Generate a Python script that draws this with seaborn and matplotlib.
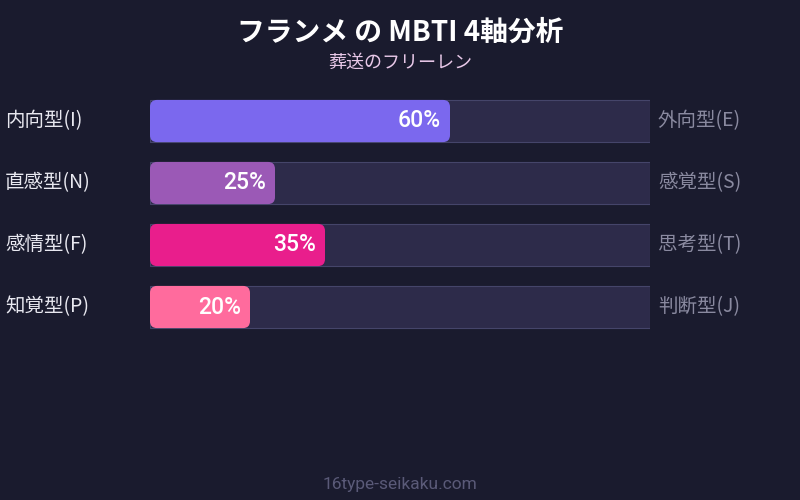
import matplotlib
matplotlib.use("Agg")
import matplotlib.pyplot as plt
import seaborn as sns
import pandas as pd
from matplotlib.patches import FancyBboxPatch

left_labels = ["内向型(I)", "直感型(N)", "感情型(F)", "知覚型(P)"]
right_labels = ["外向型(E)", "感覚型(S)", "思考型(T)", "判断型(J)"]
values = [60, 25, 35, 20]
bar_colors = ["#7b68ee", "#9b59b6", "#e91e8c", "#ff6b9d"]
title = "フランメ の MBTI 4軸分析"
subtitle = "葬送のフリーレン"
footer = "16type-seikaku.com"

BG = "#1a1b2e"
TRACK = "#2d2b4a"
TRACK_EDGE = "#45456a"

sns.set_theme(style="dark")
plt.rcParams["font.family"] = ["Noto Sans CJK JP", "DejaVu Sans"]

df = pd.DataFrame({"axis": left_labels, "value": values, "track": [100] * len(values)})

fig = plt.figure(figsize=(8, 5), dpi=100, facecolor=BG)
ax = fig.add_axes([150 / 800, (500 - 338) / 500, 500 / 800, 248 / 500])
ax.set_facecolor(BG)

sns.barplot(data=df, y="axis", x="track", color=TRACK, width=0.68, ax=ax,
            edgecolor=TRACK_EDGE, linewidth=0.8, orient="h", saturation=1)
n_track = len(ax.patches)
sns.barplot(data=df, y="axis", x="value", hue="axis", palette=bar_colors,
            width=0.68, ax=ax, legend=False, orient="h", saturation=1)

# replace value bars with rounded boxes
aspect = (100 / 500) / (4 / 248)
for p in list(ax.patches)[n_track:]:
    x, y = p.get_x(), p.get_y()
    w, h = p.get_width(), p.get_height()
    fc = p.get_facecolor()
    p.remove()
    box = FancyBboxPatch((x, y), w, h, boxstyle="round,pad=0,rounding_size=1.4",
                         mutation_aspect=1 / aspect, facecolor=fc, edgecolor="none",
                         zorder=3)
    ax.add_patch(box)

ax.set_xlim(0, 100)
ax.set_ylim(3.5, -0.5)
ax.set_xlabel("")
ax.set_ylabel("")
ax.set_xticks([])
ax.set_yticks([])
for s in ax.spines.values():
    s.set_visible(False)

for i, v in enumerate(values):
    ax.text(v - 1.8, i, f"{v}%", ha="right", va="center", color="white",
            fontsize=16.5, fontweight="medium", family=["Roboto", "DejaVu Sans"], zorder=4)

for i, lab in enumerate(left_labels):
    ax.text(-29, i, lab, ha="left", va="center", color="#e8e8f0", fontsize=14)
for i, lab in enumerate(right_labels):
    ax.text(101.6, i, lab, ha="left", va="center", color="#8a8aa0", fontsize=14)

fig.text(0.5, 1 - 33 / 500, title, ha="center", va="center", color="white",
         fontsize=20, fontweight="bold")
fig.text(0.5, 1 - 63 / 500, subtitle, ha="center", va="center", color="#e8c8e8",
         fontsize=13)
fig.text(0.5, 1 - 484 / 500, footer, ha="center", va="center", color="#5a5a78",
         fontsize=12.5, family=["Roboto", "DejaVu Sans"])

fig.savefig("out.png", dpi=100, facecolor=BG)
